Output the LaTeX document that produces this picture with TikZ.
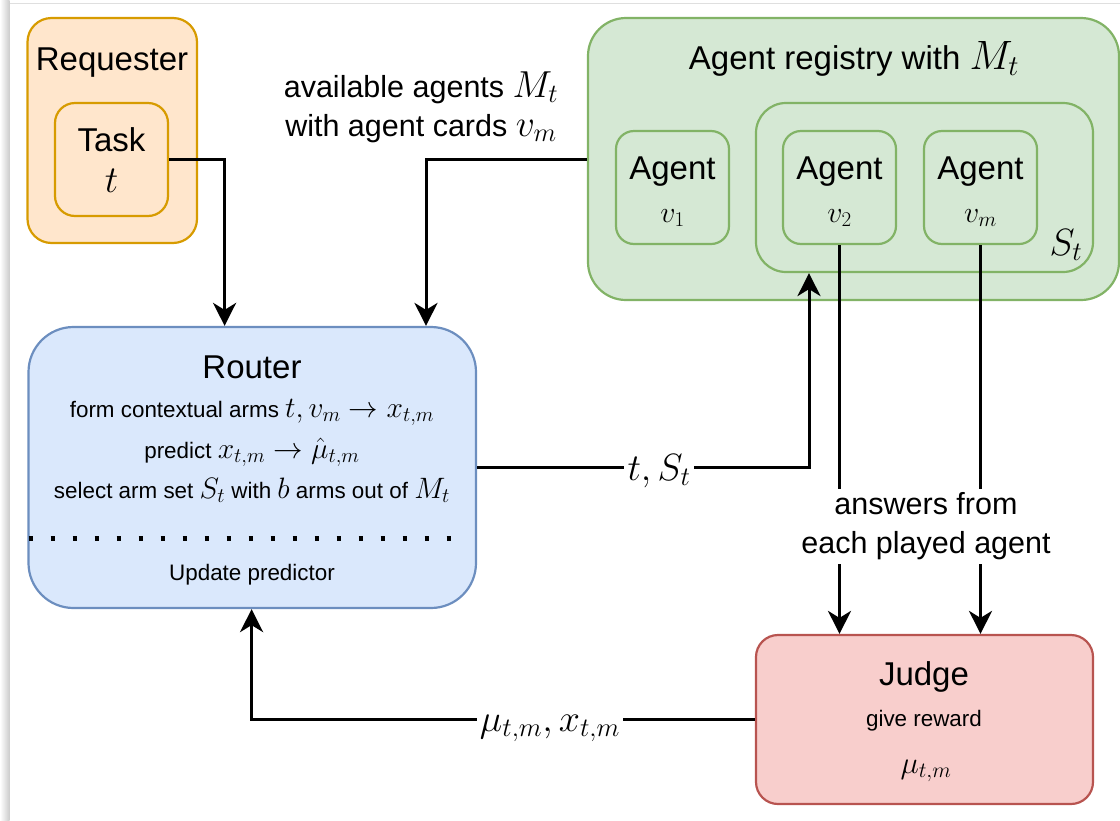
\RequirePackage{fix-cm}
\documentclass[tikz,border=0pt]{standalone}
\usepackage{fontspec}
\setmainfont{Liberation Sans}
\usetikzlibrary{arrows.meta}
\definecolor{orfill}{HTML}{FFE6CC}\definecolor{ordraw}{HTML}{D79B00}
\definecolor{grfill}{HTML}{D5E8D4}\definecolor{grdraw}{HTML}{82B366}
\definecolor{blfill}{HTML}{DAE8FC}\definecolor{bldraw}{HTML}{6C8EBF}
\definecolor{rdfill}{HTML}{F8CECC}\definecolor{rddraw}{HTML}{B85450}
\newcommand{\fs}[1]{\fontsize{#1}{#1}\selectfont}
\newcommand{\mm}[2]{{\fs{#1}$#2$}}
\begin{document}
\begin{tikzpicture}[x=1pt,y=-1pt,
  orbox/.style={draw=ordraw, fill=orfill, line width=2.2pt},
  grbox/.style={draw=grdraw, fill=grfill, line width=2.2pt},
  blbox/.style={draw=bldraw, fill=blfill, line width=2.2pt},
  rdbox/.style={draw=rddraw, fill=rdfill, line width=2.2pt},
  txt/.style={inner sep=0pt, anchor=base},
  big/.style={txt, font=\fs{33}},
  mid/.style={txt, font=\fs{30.5}},
  small/.style={txt, font=\fs{22.4}},
  elbl/.style={anchor=base, fill=white, inner xsep=4pt, inner ysep=3pt},
  arr/.style={line width=3pt, -{Stealth[length=23pt,width=23pt,inset=7pt]}},
]
\useasboundingbox (0,0) rectangle (1120,820);
\shade[left color=white, right color=gray!40] (0,0) rectangle (9.5,820);
\draw[gray!25, line width=1pt] (9.5,3.5) -- (1120,3.5);

% coordinates for bends
\coordinate (xa) at (224.6,0);
\coordinate (xb) at (426,0);
\coordinate (xc) at (809,0);
\coordinate (xd) at (251.6,0);

% Requester
\node[orbox, rounded corners=24pt, minimum width=169.5pt, minimum height=225pt] (req) at (112.25,130.5) {};
\node[orbox, rounded corners=20pt, minimum width=113pt, minimum height=113pt] (task) at (111.5,159.5) {};
\node[big] (reqt) at (112,70) {Requester};
\node[big] (taskt) at (111.5,151) {Task};
\node[txt] (taskv) at (111.5,192) {\mm{38}{t}};

% Agent registry
\node[grbox, rounded corners=38pt, minimum width=531pt, minimum height=282pt] (reg) at (853.5,159) {};
\node[grbox, rounded corners=30pt, minimum width=337pt, minimum height=169pt] (sbox) at (924.5,187.5) {};
\node[grbox, rounded corners=18pt, minimum width=113pt, minimum height=113pt] (a1) at (672.5,187.5) {};
\node[grbox, rounded corners=18pt, minimum width=113pt, minimum height=113pt] (a2) at (839.5,187.5) {};
\node[grbox, rounded corners=18pt, minimum width=113pt, minimum height=113pt] (am) at (980.5,187.5) {};
\node[big] (regt) at (854,69) {Agent registry with \mm{41}{M_t}};
\node[big] (a1t) at (672.5,179) {Agent};
\node[big] (a2t) at (839.5,179) {Agent};
\node[big] (amt) at (980.5,179) {Agent};
\node[txt] (a1v) at (672.5,222) {\mm{30}{v_1}};
\node[txt] (a2v) at (839.5,222) {\mm{30}{v_2}};
\node[txt] (amv) at (980.5,222) {\mm{30}{v_m}};
\node[txt] (st) at (1066,255) {\mm{38}{S_t}};

% available agents label
\node[mid] (av1) at (421,97) {available agents \mm{37.6}{M_t}};
\node[mid] (av2) at (421,136) {with agent cards \mm{37.6}{v_m}};

% Router
\node[blbox, rounded corners=45pt, minimum width=447.5pt, minimum height=281pt] (router) at (252.25,467.5) {};
\node[big] (routert) at (252,378) {Router};
\node[small] (r1) at (252,417) {form contextual arms \mm{29.5}{t, v_m \to x_{t,m}}};
\node[small] (r2) at (252,458) {predict \mm{29.5}{x_{t,m} \to \hat\mu_{t,m}}};
\node[small] (r3) at (252,498) {select arm set \mm{29.5}{S_t} with \mm{29.5}{b} arms out of \mm{29.5}{M_t}};
\draw[line width=5pt, dash pattern=on 4.6pt off 17.4pt] (28.5,538) -- (462,538);
\node[small] (r4) at (252,580) {Update predictor};

% Judge
\node[rdbox, rounded corners=22pt, minimum width=337pt, minimum height=169pt] (judge) at (924.5,719.5) {};
\node[big] (judget) at (924,685) {Judge};
\node[small] (jr) at (924,726) {give reward};
\node[txt] (jm) at (926,773) {\mm{31}{\mu_{t,m}}};

% connectors
\draw[arr] (task.east) -| (router.north -| xa);
\draw[arr] (reg.west) -| (router.north -| xb);
\draw[arr] (router.east) -| (sbox.south -| xc);
\draw[arr] (a2.south) -- (judge.north -| a2.south);
\draw[arr] (am.south) -- (judge.north -| am.south);
\draw[arr] (judge.west) -| (router.south -| xd);

% edge labels
\node[elbl] (lts) at (659,480) {\mm{38}{t, S_t}};
\node[elbl, inner xsep=3pt] (lmu) at (550,731) {\mm{38}{\mu_{t,m}, x_{t,m}}};
\node[fill=white, inner xsep=2pt, inner ysep=4pt, align=center, font=\fontsize{30.5}{39}\selectfont] (ans) at (926,526.5) {answers from\\each played agent};
\end{tikzpicture}
\end{document}
